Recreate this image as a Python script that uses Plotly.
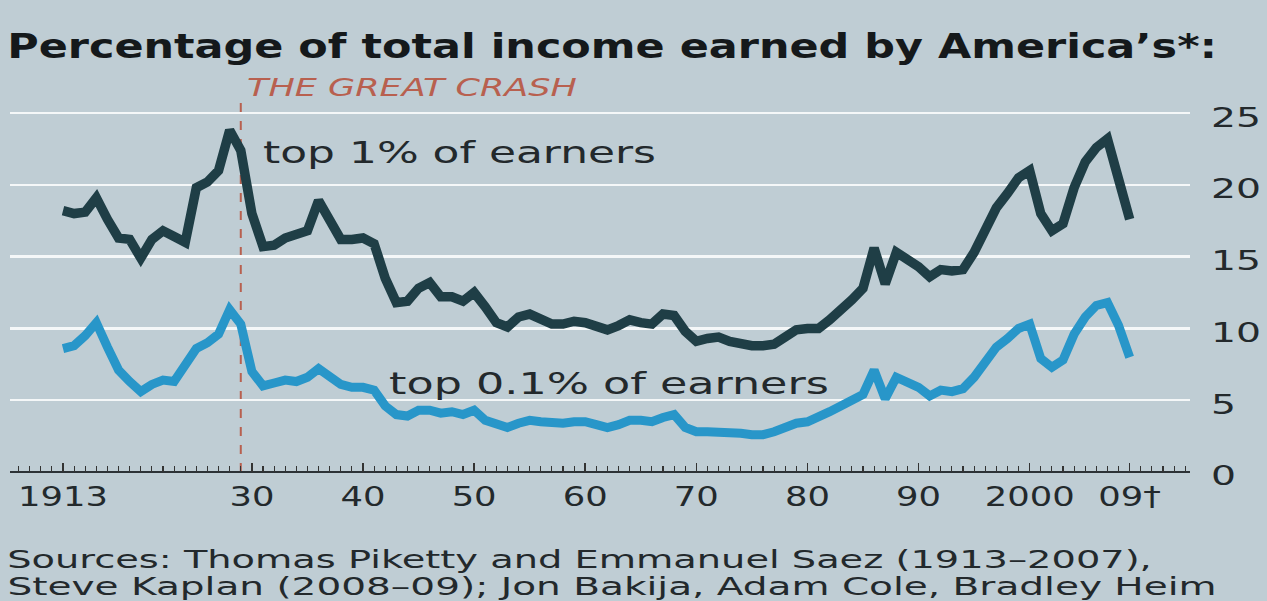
import json
import plotly.graph_objects as go

# ---- data ----
years = list(range(1913, 2010))

top1 = [18.2, 18.0, 18.1, 19.1, 17.6, 16.3, 16.2,
        14.9, 16.2, 16.8, 16.4, 16.0, 19.8, 20.2, 21.0, 23.8, 22.4,
        18.0, 15.7, 15.8, 16.3, 16.5, 16.8, 18.9, 17.6, 16.2, 16.2,
        16.3, 15.9, 13.5, 11.8, 11.9, 12.8, 13.2, 12.2, 12.2, 11.9,
        12.5, 11.5, 10.4, 10.1, 10.8, 11.0, 10.6, 10.3, 10.3, 10.5,
        10.4, 10.2, 9.9, 10.2, 10.6, 10.4, 10.3, 11.0, 10.9, 9.8,
        9.1, 9.3, 9.4, 9.1, 8.9, 8.8, 8.8, 8.9, 9.4, 9.9,
        10.0, 10.0, 10.6, 11.2, 12.0, 12.8, 15.6, 13.1, 15.3, 14.8,
        14.3, 13.6, 14.1, 14.0, 14.1, 15.3, 16.8, 18.4, 19.4, 20.5,
        21.0, 18.0, 16.8, 17.3, 19.8, 21.6, 22.6, 23.2, 20.4, 17.6]

top01 = [8.6, 8.8, 9.5, 10.4, 8.7, 7.1, 6.3,
         5.6, 6.1, 6.4, 6.3, 7.4, 8.6, 9.0, 9.6, 11.3, 10.3,
         7.0, 6.0, 6.2, 6.4, 6.3, 6.6, 7.2, 6.6, 6.1, 5.9,
         5.9, 5.7, 4.6, 4.0, 3.9, 4.3, 4.3, 4.1, 4.2, 4.0,
         4.3, 3.6, 3.3, 3.1, 3.4, 3.6, 3.5, 3.4, 3.4, 3.5,
         3.5, 3.3, 3.1, 3.3, 3.6, 3.6, 3.5, 3.8, 4.0, 3.1,
         2.8, 2.8, 2.8, 2.7, 2.7, 2.6, 2.6, 2.8, 3.1, 3.4,
         3.5, 3.8, 4.2, 4.6, 5.0, 5.4, 7.1, 5.1, 6.6, 6.3,
         5.9, 5.3, 5.7, 5.6, 5.8, 6.6, 7.6, 8.7, 9.3, 10.0,
         10.3, 7.9, 7.3, 7.8, 9.6, 10.8, 11.6, 11.8, 10.2, 8.0]

x_tick_vals = [1913, 1930, 1940, 1950, 1960, 1970, 1980, 1990, 2000, 2009]
x_tick_text = ["1913", "30", "40", "50", "60", "70", "80", "90", "2000", "09†"]
y_tick_vals = [0, 5, 10, 15, 20, 25]
y_tick_text = ["0", "5", "10", "15", "20", "25"]

crash_year = 1929

title_text = "Percentage of total income earned by America’s*:"
crash_text = "THE GREAT CRASH"
label_top1 = "top 1% of earners"
label_top01 = "top 0.1% of earners"
sources_1 = "Sources: Thomas Piketty and Emmanuel Saez (1913–2007),"
sources_2 = "Steve Kaplan (2008–09); Jon Bakija, Adam Cole, Bradley Heim"

# ---- style ----
BG = "#bfcdd4"
DARK = "#1f3e46"
BLUE = "#2896c9"
TXT = "#23292c"
CRASH = "#b8604f"
FONT = "DejaVu Sans"

W, H = 1267, 601
L, R, T, B = 10, 77, 70, 129

fig = go.Figure()

fig.add_trace(go.Scatter(x=years, y=top1, mode="lines",
                         line=dict(color=DARK, width=9.5), hoverinfo="skip",
                         showlegend=False))
fig.add_trace(go.Scatter(x=years, y=top01, mode="lines",
                         line=dict(color=BLUE, width=9), hoverinfo="skip",
                         showlegend=False))

# Great crash dashed marker
fig.add_shape(type="line", xref="x", yref="y", x0=crash_year, x1=crash_year,
              y0=0, y1=26.0, line=dict(color=CRASH, width=2, dash="dash"),
              layer="below")

plot_w = W - L - R
plot_h = H - T - B


def px_to_paper_x(px):
    return (px - L) / plot_w


def px_to_paper_y(py):
    return (H - B - py) / plot_h


# annotations (order matters for the widths list below)
fig.add_annotation(x=crash_year + 0.35, y=26.75, xref="x", yref="y",
                   text=crash_text, showarrow=False, xanchor="left",
                   yanchor="middle",
                   font=dict(family=FONT, size=24, color=CRASH, style="italic"))
fig.add_annotation(x=1930.8, y=22.3, xref="x", yref="y", text=label_top1,
                   showarrow=False, xanchor="left", yanchor="middle",
                   font=dict(family=FONT, size=31, color=TXT))
fig.add_annotation(x=1942.2, y=6.2, xref="x", yref="y", text=label_top01,
                   showarrow=False, xanchor="left", yanchor="middle",
                   font=dict(family=FONT, size=31, color=TXT))
fig.add_annotation(x=px_to_paper_x(5), y=px_to_paper_y(46), xref="paper",
                   yref="paper", text=title_text, showarrow=False,
                   xanchor="left", yanchor="middle",
                   font=dict(family=FONT, size=34, color="#15191b",
                             weight="bold"))
fig.add_annotation(x=px_to_paper_x(5), y=px_to_paper_y(560), xref="paper",
                   yref="paper", text=sources_1, showarrow=False,
                   xanchor="left", yanchor="middle",
                   font=dict(family=FONT, size=24, color=TXT))
fig.add_annotation(x=px_to_paper_x(5), y=px_to_paper_y(587), xref="paper",
                   yref="paper", text=sources_2, showarrow=False,
                   xanchor="left", yanchor="middle",
                   font=dict(family=FONT, size=24, color=TXT))

# target on-screen widths of the (horizontally wide) lettering of the original
annotation_widths = [330, 393, 440, 1210, 1145, 1210]
xtick_first_width = 90
ytick_top_width = 50

fig.update_layout(
    width=W, height=H,
    margin=dict(l=L, r=R, t=T, b=B, pad=0),
    paper_bgcolor=BG, plot_bgcolor=BG,
    showlegend=False,
    xaxis=dict(
        range=[1908.23, 2014.43],
        tickmode="array", tickvals=x_tick_vals, ticktext=x_tick_text,
        ticks="inside", ticklen=9, tickwidth=1.5, tickcolor="#333",
        minor=dict(ticks="inside", dtick=1, tick0=1913, ticklen=6,
                   tickwidth=1.2, tickcolor="#333", showgrid=False),
        showgrid=False, zeroline=False, showline=False,
        tickfont=dict(family=FONT, size=27, color=TXT),
        ticklabelstandoff=6,
    ),
    yaxis=dict(
        range=[0, 28], side="right",
        tickmode="array", tickvals=y_tick_vals, ticktext=y_tick_text,
        showgrid=True, gridcolor="#f4f7f8", gridwidth=2.5,
        zeroline=True, zerolinecolor="#2c3236", zerolinewidth=1.8,
        showline=False, ticks="",
        tickfont=dict(family=FONT, size=27, color=TXT),
        ticklabelstandoff=20,
    ),
)

post_js = """
try {
  document.body.style.margin = '0';
  document.body.style.overflow = 'hidden';
  var gd = document.getElementById('{plot_id}');
  var annW = %s;
  var xW = %d, yW = %d;
  function stretch(t, s, mode, dy) {
    var bb = t.getBBox();
    if (!bb.width) return;
    var ox = (mode === 'center') ? bb.x + bb.width / 2 : bb.x;
    var tr = t.getAttribute('transform') || '';
    t.setAttribute('transform', tr + ' translate(' + ox + ',' + (dy || 0) +
      ') scale(' + s + ',1) translate(' + (-ox) + ',0)');
  }
  gd.querySelectorAll('g.annotation').forEach(function (g) {
    var i = parseInt(g.getAttribute('data-index'));
    var t = g.querySelector('text.annotation-text');
    if (t && annW[i]) {
      var w = t.getBBox().width;
      if (w) stretch(t, annW[i] / w, 'left', 0);
    }
  });
  var xt = gd.querySelectorAll('g.xtick text');
  if (xt.length) {
    var sx = xW / xt[0].getBBox().width;
    xt.forEach(function (t) { stretch(t, sx, 'center', 0); });
  }
  var yt = gd.querySelectorAll('g.ytick text');
  if (yt.length) {
    var sy = yW / yt[yt.length - 1].getBBox().width;
    yt.forEach(function (t) { stretch(t, sy, 'left', 4); });
  }
} catch (e) { console.log(e); }
""" % (json.dumps(annotation_widths), xtick_first_width, ytick_top_width)

fig.write_html("out.html", post_script=post_js,
               config={"displayModeBar": False, "staticPlot": True})
